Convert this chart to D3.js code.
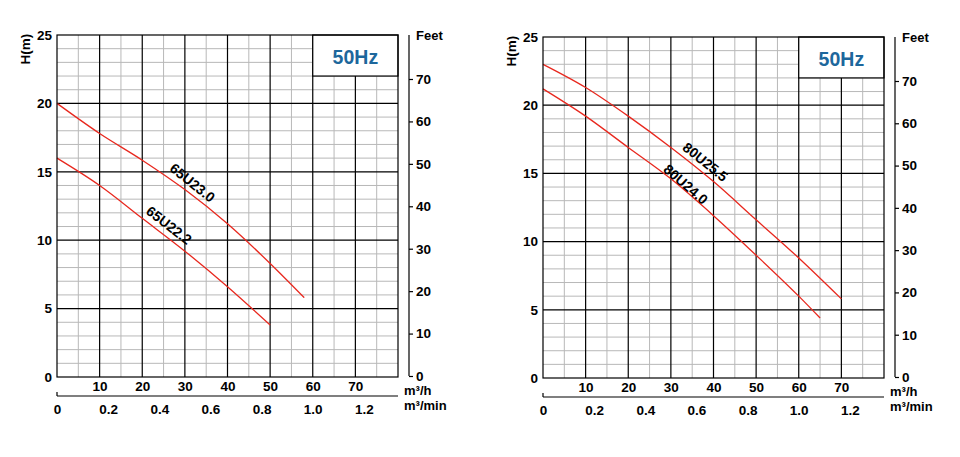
<!DOCTYPE html>
<html>
<head>
<meta charset="utf-8">
<script src="https://cdn.jsdelivr.net/npm/d3@7/dist/d3.min.js"></script>
<style>
  html, body { margin: 0; padding: 0; background: #fff; }
  svg { display: block; }
  text { font-family: "Liberation Sans", Arial, sans-serif; font-weight: bold; }
</style>
</head>
<body>
<svg id="chart" width="960" height="457"></svg>
<script>
// ---- Data ----
const flowTicks = [10, 20, 30, 40, 50, 60, 70];          // m³/h labels
const minuteTicks = [0, 0.2, 0.4, 0.6, 0.8, 1.0, 1.2];   // m³/min labels
const headTicks = [0, 5, 10, 15, 20, 25];                // H(m)
const feetTicks = [0, 10, 20, 30, 40, 50, 60, 70];       // Feet

// Left chart curves
const name65U230 = "65U23.0";
const q65U230 = [0, 10, 20, 30, 40, 50, 58];
const h65U230 = [20, 17.8, 15.85, 13.7, 11.2, 8.3, 5.8];
const label65U230 = [31.8, 14.2];

const name65U222 = "65U22.2";
const q65U222 = [0, 10, 20, 30, 40, 50];
const h65U222 = [16, 14.0, 11.6, 9.2, 6.6, 3.8];
const label65U222 = [26.3, 11.1];

// Right chart curves
const name80U255 = "80U25.5";
const q80U255 = [0, 10, 20, 30, 40, 50, 60, 70];
const h80U255 = [23.0, 21.3, 19.2, 16.9, 14.4, 11.6, 8.8, 5.8];
const label80U255 = [38.1, 15.85];

const name80U240 = "80U24.0";
const q80U240 = [0, 10, 20, 30, 40, 50, 60, 65];
const h80U240 = [21.2, 19.2, 16.9, 14.6, 11.9, 9.0, 6.0, 4.4];
const label80U240 = [33.5, 14.2];

const freqLabel = "50Hz";

const charts = [
  { x0: 57, x1: 398, y0: 35, y1: 377,
    series: [
      { name: name65U230, q: q65U230, h: h65U230, label: label65U230 },
      { name: name65U222, q: q65U222, h: h65U222, label: label65U222 }
    ] },
  { x0: 543, x1: 884, y0: 37, y1: 378,
    series: [
      { name: name80U255, q: q80U255, h: h80U255, label: label80U255 },
      { name: name80U240, q: q80U240, h: h80U240, label: label80U240 }
    ] }
];

const svg = d3.select("#chart");
const RED = "#e8281e";
const GRAY = "#b8b8b8";

function drawChart(c) {
  const g = svg.append("g");
  const x = d3.scaleLinear().domain([0, 80]).range([c.x0, c.x1]);
  const y = d3.scaleLinear().domain([0, 25]).range([c.y1, c.y0]);
  const xm = d3.scaleLinear().domain([0, 80 / 60]).range([c.x0, c.x1]);
  const yf = d3.scaleLinear().domain([0, 70]).range([c.y1 - 1, c.y0 + 44]);

  const boxQ = 60, boxH = 22;

  // minor grid
  const minorQ = d3.range(5, 80, 5);
  const minorH = d3.range(1, 25, 1);
  g.selectAll(".vminor").data(minorQ).join("line")
    .attr("x1", d => x(d)).attr("x2", d => x(d))
    .attr("y1", c.y1).attr("y2", d => d > boxQ ? y(boxH) : c.y0)
    .attr("stroke", d => d % 10 === 0 ? "none" : GRAY).attr("stroke-width", 1);
  g.selectAll(".hminor").data(minorH).join("line")
    .attr("x1", c.x0).attr("x2", d => d > boxH ? x(boxQ) : c.x1)
    .attr("y1", d => y(d)).attr("y2", d => y(d))
    .attr("stroke", d => d % 5 === 0 ? "none" : GRAY).attr("stroke-width", 1);

  // major grid
  const majorQ = d3.range(10, 80, 10);
  const majorH = d3.range(5, 25, 5);
  g.selectAll(".vmajor").data(majorQ).join("line")
    .attr("x1", d => x(d)).attr("x2", d => x(d))
    .attr("y1", c.y1).attr("y2", d => d > boxQ ? y(boxH) : c.y0)
    .attr("stroke", "#000").attr("stroke-width", 1.2);
  g.selectAll(".hmajor").data(majorH).join("line")
    .attr("x1", c.x0).attr("x2", c.x1)
    .attr("y1", d => y(d)).attr("y2", d => y(d))
    .attr("stroke", "#000").attr("stroke-width", 1.2);

  // curves
  const line = d3.line().x(d => x(d[0])).y(d => y(d[1])).curve(d3.curveMonotoneX);
  c.series.forEach(s => {
    const pts = s.q.map((q, i) => [q, s.h[i]]);
    g.append("path").attr("d", line(pts))
      .attr("fill", "none").attr("stroke", RED).attr("stroke-width", 1.3);
    const lq = s.label[0];
    let i = d3.bisectLeft(s.q, lq);
    i = Math.max(1, Math.min(i, s.q.length - 1));
    const dx = x(s.q[i]) - x(s.q[i - 1]);
    const dy = y(s.h[i]) - y(s.h[i - 1]);
    const ang = Math.atan2(dy, dx) * 180 / Math.PI;
    g.append("text")
      .attr("transform", `translate(${x(s.label[0])},${y(s.label[1])}) rotate(${ang})`)
      .attr("text-anchor", "middle").attr("dy", "0.36em")
      .attr("font-size", 14).attr("fill", "#000").text(s.name);
  });

  // frequency box
  g.append("rect")
    .attr("x", x(boxQ)).attr("y", c.y0)
    .attr("width", x(80) - x(boxQ)).attr("height", y(boxH) - c.y0)
    .attr("fill", "#fff").attr("stroke", "#000").attr("stroke-width", 1.2);
  g.append("text")
    .attr("x", (x(boxQ) + x(80)) / 2).attr("y", c.y0 + 28.5)
    .attr("text-anchor", "middle").attr("font-size", 19.5)
    .attr("fill", "#1d679c").text(freqLabel);

  // border
  g.append("rect").attr("x", c.x0).attr("y", c.y0)
    .attr("width", c.x1 - c.x0).attr("height", c.y1 - c.y0)
    .attr("fill", "none").attr("stroke", "#000").attr("stroke-width", 1.2);

  // left axis H(m)
  const ay = g.append("g").attr("transform", `translate(${c.x0},0)`)
    .call(d3.axisLeft(y).tickValues(headTicks).tickSize(0).tickPadding(5));
  ay.select(".domain").remove();
  ay.selectAll("text").attr("font-size", 13.5).attr("fill", "#000")
    .style("font-family", '"Liberation Sans", Arial, sans-serif').style("font-weight", "bold");
  g.append("text")
    .attr("transform", `translate(${c.x0 - 27},${c.y0 + 14}) rotate(-90)`)
    .attr("text-anchor", "middle").attr("font-size", 13.5).attr("fill", "#000").text("H(m)");

  // right axis Feet
  const fx = c.x1 + 11;
  g.append("line").attr("x1", fx).attr("x2", fx)
    .attr("y1", c.y0).attr("y2", yf(0))
    .attr("stroke", "#000").attr("stroke-width", 1.2);
  const af = g.append("g").attr("transform", `translate(${fx},0)`)
    .call(d3.axisRight(yf).tickValues(feetTicks).tickSize(4).tickPadding(3));
  af.select(".domain").remove();
  af.selectAll("line").attr("stroke", "#000").attr("stroke-width", 1.2);
  af.selectAll("text").attr("font-size", 13.5).attr("fill", "#000")
    .style("font-family", '"Liberation Sans", Arial, sans-serif').style("font-weight", "bold");
  g.append("text").attr("x", c.x1 + 18).attr("y", c.y0 + 4.5)
    .attr("font-size", 13).attr("fill", "#000").text("Feet");

  // bottom axis m³/h
  const ax = g.append("g").attr("transform", `translate(0,${c.y1})`)
    .call(d3.axisBottom(x).tickValues(flowTicks).tickSize(0).tickPadding(4));
  ax.select(".domain").remove();
  ax.selectAll("text").attr("font-size", 13.5).attr("fill", "#000")
    .style("font-family", '"Liberation Sans", Arial, sans-serif').style("font-weight", "bold");

  // second bottom axis m³/min
  const my = c.y1 + 19;
  g.append("line").attr("x1", c.x0).attr("x2", c.x1).attr("y1", my).attr("y2", my)
    .attr("stroke", "#000").attr("stroke-width", 1.2);
  g.append("line").attr("x1", c.x0).attr("x2", c.x0).attr("y1", my).attr("y2", my - 4)
    .attr("stroke", "#000").attr("stroke-width", 1.2);
  const am = g.append("g").attr("transform", `translate(0,${my})`)
    .call(d3.axisBottom(xm).tickValues(minuteTicks).tickSize(0).tickPadding(8)
      .tickFormat(d => d === 0 ? "0" : d3.format(".1f")(d)));
  am.select(".domain").remove();
  am.selectAll("text").attr("font-size", 13.5).attr("fill", "#000")
    .style("font-family", '"Liberation Sans", Arial, sans-serif').style("font-weight", "bold");

  g.append("text").attr("x", c.x1 + 6).attr("y", c.y1 + 17.5)
    .attr("font-size", 13).attr("fill", "#000").text("m³/h");
  g.append("text").attr("x", c.x1 + 6).attr("y", c.y1 + 33)
    .attr("font-size", 13).attr("fill", "#000").text("m³/min");
}

charts.forEach(drawChart);
</script>
</body>
</html>
